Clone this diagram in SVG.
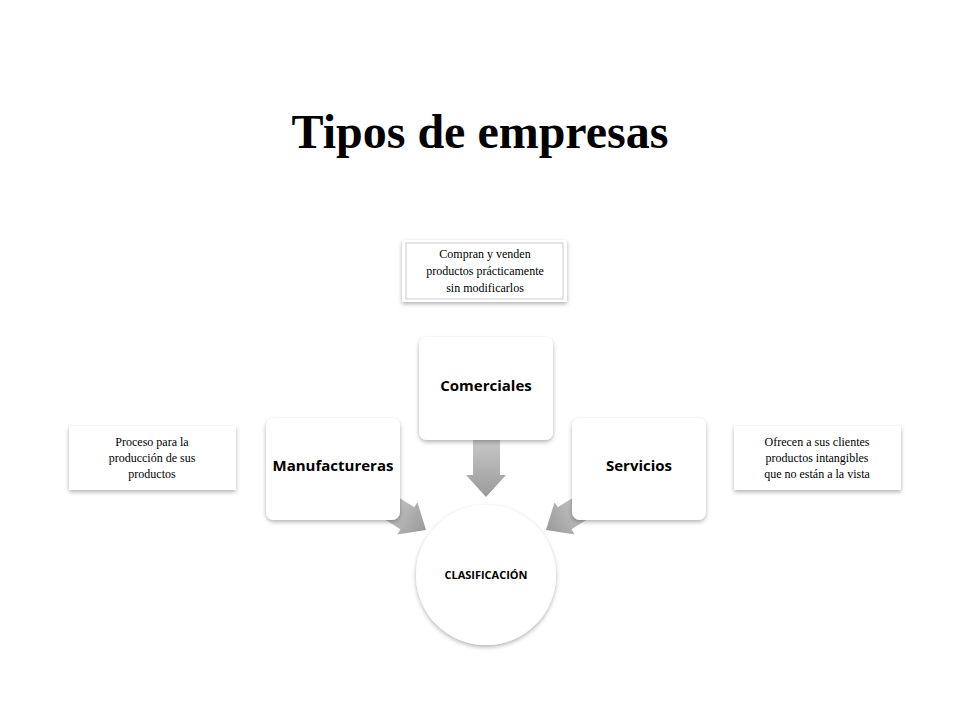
<svg xmlns="http://www.w3.org/2000/svg" width="960" height="720" viewBox="0 0 960 720">
<defs>
<filter id="sh" x="-20%" y="-20%" width="140%" height="140%"><feDropShadow dx="0" dy="2" stdDeviation="2" flood-color="#000" flood-opacity="0.3"/></filter>
<linearGradient id="ag" x1="0" y1="0" x2="0" y2="1"><stop offset="0" stop-color="#c8c8c8"/><stop offset="1" stop-color="#9a9a9a"/></linearGradient>
<linearGradient id="ah" x1="0" y1="0" x2="1" y2="0"><stop offset="0" stop-color="#c8c8c8"/><stop offset="1" stop-color="#9a9a9a"/></linearGradient>
</defs>
<style>
.box{fill:#fff;filter:url(#sh)}
.b{font-family:"Open Sans","Liberation Sans",sans-serif;font-weight:bold;font-size:15px;text-anchor:middle;fill:#000}
.b.sm{font-size:11px}
.s{font-family:"Liberation Serif",serif;font-size:12px;text-anchor:middle;fill:#000}
</style>
<rect width="960" height="720" fill="#fff"/>
<text x="480" y="148" font-family="Liberation Serif,serif" font-weight="bold" font-size="48" text-anchor="middle">Tipos de empresas</text>
<g id="connectors">
<polygon fill="url(#ag)" points="473,440 500,440 500,475 506,475 486,497 466,475 473,475"/>
<polygon fill="url(#ah)" transform="translate(426,530) rotate(32)" points="-48,-13 -22,-13 -22,-19 0,0 -22,19 -22,13 -48,13"/>
<polygon fill="url(#ah)" transform="translate(546,530) scale(-1,1) rotate(32)" points="-48,-13 -22,-13 -22,-19 0,0 -22,19 -22,13 -48,13"/>
</g>
<g id="clasificacion"><circle cx="486" cy="575" r="70" class="box"/><text x="486" y="579" class="b sm">CLASIFICACIÓN</text></g>
<g id="comerciales"><rect x="419" y="337" width="134" height="103" rx="8" class="box"/><text x="486" y="391" class="b">Comerciales</text></g>
<g id="manufactureras"><rect x="266" y="418" width="134" height="102" rx="8" class="box"/><text x="333" y="471" class="b">Manufactureras</text></g>
<g id="servicios"><rect x="572" y="418" width="134" height="102" rx="8" class="box"/><text x="639" y="471" class="b">Servicios</text></g>
<g id="nota-comerciales"><rect x="402" y="240" width="165" height="62" class="box"/><rect x="406" y="243" width="157" height="56" fill="none" stroke="#ccc"/><text class="s"><tspan x="485" y="258">Compran y venden</tspan><tspan x="485" y="275">productos prácticamente</tspan><tspan x="485" y="292">sin modificarlos</tspan></text></g>
<g id="nota-manufactureras"><rect x="69" y="426" width="167" height="64" class="box"/><text class="s"><tspan x="152" y="446">Proceso para la</tspan><tspan x="152" y="462">producción de sus</tspan><tspan x="152" y="478">productos</tspan></text></g>
<g id="nota-servicios"><rect x="734" y="426" width="167" height="64" class="box"/><text class="s"><tspan x="817" y="446">Ofrecen a sus clientes</tspan><tspan x="817" y="462">productos intangibles</tspan><tspan x="817" y="478">que no están a la vista</tspan></text></g>
</svg>
